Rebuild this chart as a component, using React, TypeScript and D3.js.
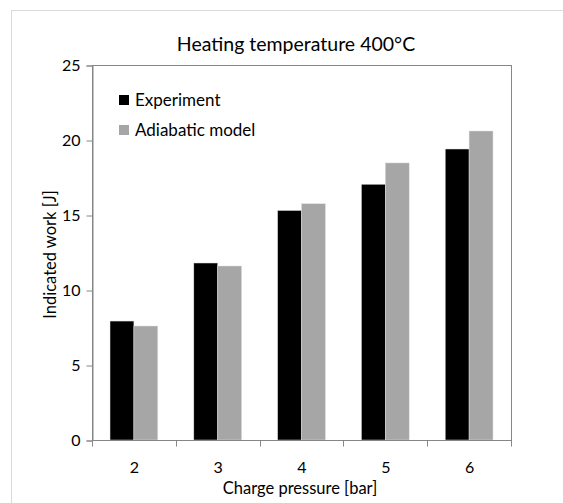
import React from 'react'
import { useEffect, useRef } from 'react'
import * as d3 from 'd3'

// chart data
const categories = ['2', '3', '4', '5', '6']
const seriesNames = ['Experiment', 'Adiabatic model']
const experiment = [7.93, 11.8, 15.3, 17.05, 19.4]
const adiabatic = [7.6, 11.6, 15.75, 18.47, 20.6]
const yTicks = [0, 5, 10, 15, 20, 25]
const colors = ['#000000', '#a6a6a6']

const FONT = 'Lato, "Open Sans", sans-serif'

const App = () => {
  const svgRef = useRef<SVGSVGElement>(null)

  useEffect(() => {
    const w = 563
    const h = 503
    const m = { left: 92, right: 52, top: 65, bottom: 63 }
    const svg = d3.select(svgRef.current)
      .attr('width', w)
      .attr('height', h)
      .style('position', 'absolute')
      .style('left', 0)
      .style('top', 0)
    svg.selectAll('*').remove()

    svg.append('rect')
      .attr('width', w).attr('height', h).attr('fill', '#fff')

    // outer chart frame (cut off at the right and bottom)
    svg.append('rect')
      .attr('x', 11.5).attr('y', 10.5)
      .attr('width', w).attr('height', h)
      .attr('fill', 'none').attr('stroke', '#d9d9d9')

    // scales
    const x0 = d3.scaleBand()
      .domain(categories)
      .range([m.left, w - m.right])
      .paddingInner(0.43)
      .paddingOuter(0.215)
    const x1 = d3.scaleBand()
      .domain(seriesNames)
      .range([0, x0.bandwidth()])
    const y = d3.scaleLinear()
      .domain([0, 25])
      .range([h - m.bottom, m.top])

    // bars
    const data = [experiment, adiabatic]
    data.forEach((vals, si) => {
      svg.append('g')
        .selectAll('rect')
        .data(vals)
        .join('rect')
        .attr('x', (d, i) => x0(categories[i])! + x1(seriesNames[si])!)
        .attr('y', d => y(d))
        .attr('width', x1.bandwidth())
        .attr('height', d => y(0) - y(d))
        .attr('fill', colors[si])
        .attr('stroke', '#ddd')
        .attr('stroke-width', 0.5)
    })

    // plot border
    svg.append('rect')
      .attr('x', m.left + 0.5).attr('y', m.top + 0.5)
      .attr('width', w - m.right - m.left).attr('height', h - m.bottom - m.top)
      .attr('fill', 'none').attr('stroke', '#868686')

    // y axis
    const yAxis = d3.axisLeft(y)
      .tickValues(yTicks)
      .tickSize(6)
      .tickPadding(6)
    const gy = svg.append('g')
      .attr('transform', `translate(${m.left + 0.5}, 0.5)`)
      .call(yAxis)
    gy.select('.domain').attr('stroke', '#868686')
    gy.selectAll('.tick line').attr('stroke', '#868686')
    gy.selectAll('.tick text')
      .attr('font-family', FONT).attr('font-size', 16).attr('fill', '#000')

    // x axis, ticks at category boundaries
    const gx = svg.append('g')
      .attr('transform', `translate(0.5, ${h - m.bottom + 0.5})`)
    gx.append('line')
      .attr('x1', m.left).attr('x2', w - m.right)
      .attr('stroke', '#868686')
    const step = x0.step()
    d3.range(categories.length + 1).forEach(i => {
      const xx = Math.round(m.left + i * step)
      gx.append('line')
        .attr('x1', xx).attr('x2', xx).attr('y1', 0).attr('y2', 6)
        .attr('stroke', '#868686')
    })
    gx.selectAll('text.cat')
      .data(categories)
      .join('text')
      .attr('class', 'cat')
      .attr('x', d => x0(d)! + x0.bandwidth() / 2)
      .attr('y', 32)
      .attr('text-anchor', 'middle')
      .attr('font-family', FONT).attr('font-size', 16)
      .text(d => d)

    // titles
    svg.append('text')
      .attr('x', 296).attr('y', 51)
      .attr('text-anchor', 'middle')
      .attr('font-family', FONT).attr('font-size', 19.5)
      .text('Heating temperature 400°C')
    svg.append('text')
      .attr('x', 300).attr('y', 494)
      .attr('text-anchor', 'middle')
      .attr('font-family', FONT).attr('font-size', 16.5)
      .text('Charge pressure [bar]')
    svg.append('text')
      .attr('transform', `translate(56, ${(m.top + h - m.bottom) / 2 + 2}) rotate(-90)`)
      .attr('text-anchor', 'middle')
      .attr('font-family', FONT).attr('font-size', 16.5)
      .text('Indicated work [J]')

    // legend
    seriesNames.forEach((name, i) => {
      const g = svg.append('g').attr('transform', `translate(119, ${95 + i * 30})`)
      g.append('rect').attr('width', 10).attr('height', 10).attr('fill', colors[i])
      g.append('text')
        .attr('x', 16).attr('y', 11)
        .attr('font-family', FONT).attr('font-size', 17)
        .text(name)
    })
  }, [])

  return (
    <div>
      <svg ref={svgRef}></svg>
    </div>
  )
}

export default App
